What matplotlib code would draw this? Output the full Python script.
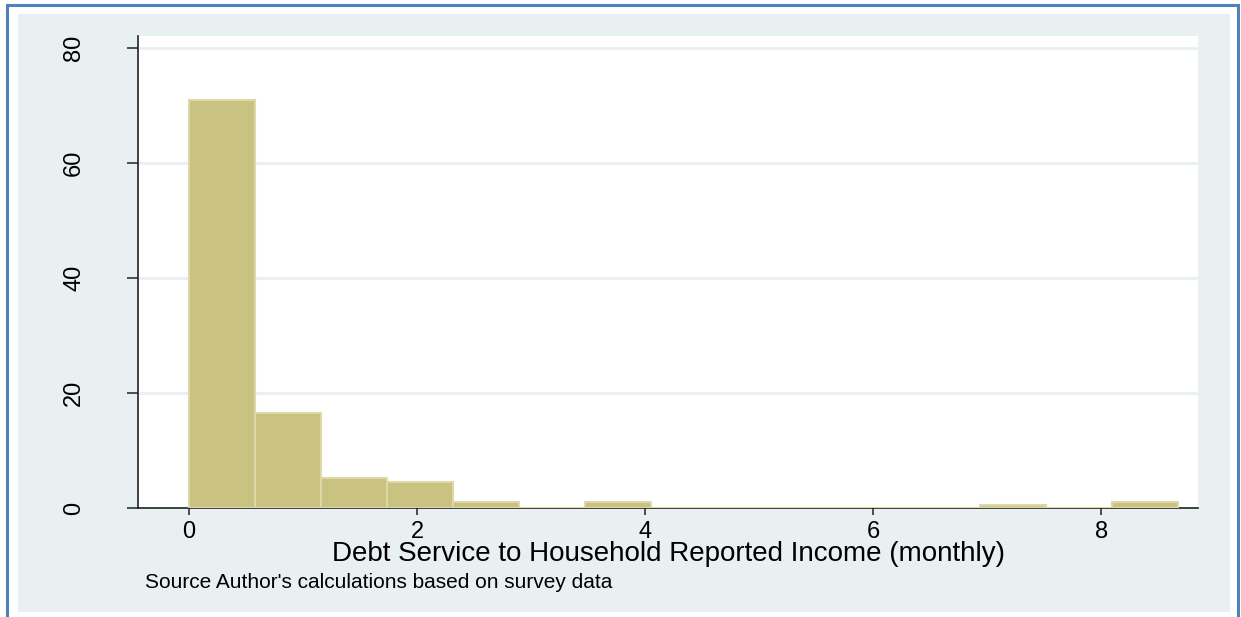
import matplotlib.pyplot as plt
from matplotlib.patches import Rectangle

plt.rcParams['font.family'] = ['Liberation Sans', 'DejaVu Sans']

# histogram of debt service ratio, percent of households per bin
bin_start = 0.0
bin_width = 0.5785
percent = [71.0, 16.6, 5.3, 4.5, 1.0, 0, 1.0, 0, 0, 0, 0, 0, 0.6, 0, 1.0]

x_ticks = [0, 2, 4, 6, 8]
y_ticks = [0, 20, 40, 60, 80]
x_label = "Debt Service to Household Reported Income (monthly)"
note = "Source Author's calculations based on survey data"

W, H = 1241, 617
fig = plt.figure(figsize=(W / 100, H / 100), dpi=100)
fig.patch.set_facecolor('white')

# light panel behind the graph and the blue frame round it
fig.add_artist(Rectangle((18 / W, 1 - 612 / H), (1230 - 18) / W, (612 - 14) / H,
                         transform=fig.transFigure, facecolor='#e8f0f2',
                         edgecolor='none', zorder=0))
frame = dict(color='#4f81bd', lw=2.2, transform=fig.transFigure, zorder=1)
fig.add_artist(plt.Line2D([7 / W, 7 / W], [0, 1 - 5 / H], **frame))
fig.add_artist(plt.Line2D([7 / W, 1238 / W], [1 - 5 / H, 1 - 5 / H], **frame))
fig.add_artist(plt.Line2D([1238 / W, 1238 / W], [0, 1 - 5 / H], **frame))

left, right, top, bottom = 138, 1198, 36, 508
ax = fig.add_axes([left / W, 1 - bottom / H, (right - left) / W, (bottom - top) / H])
ax.set_zorder(5)
ax.set_facecolor('white')

edges = [bin_start + i * bin_width for i in range(len(percent))]
ax.bar(edges, percent, width=bin_width, align='edge', color='#cac281',
       edgecolor='#ddd8a6', linewidth=1.5, zorder=3)

ax.set_xlim(-0.447, 8.85)
ax.set_ylim(0, 82.1)
ax.set_yticks(y_ticks)
ax.set_xticks(x_ticks)
ax.yaxis.grid(True, color='#e8f0f2', linewidth=2, zorder=0)
ax.set_axisbelow(True)

for s in ['top', 'right']:
    ax.spines[s].set_visible(False)
for s in ['left', 'bottom']:
    ax.spines[s].set_color('#222222')
    ax.spines[s].set_linewidth(1.2)

ax.tick_params(axis='y', length=8, width=1.1, color='#222222', pad=30, labelsize=17,
               labelrotation=90)
ax.tick_params(axis='x', length=5, width=1.1, color='#222222', pad=4, labelsize=17)
for lbl in ax.get_yticklabels():
    lbl.set_va('center')

fig.text((left + right) / 2 / W, 1 - 561 / H, x_label, ha='center', va='baseline', fontsize=20)
fig.text(145 / W, 1 - 583 / H, note, ha='left', va='center', fontsize=15)

fig.savefig('out.png', dpi=100)
